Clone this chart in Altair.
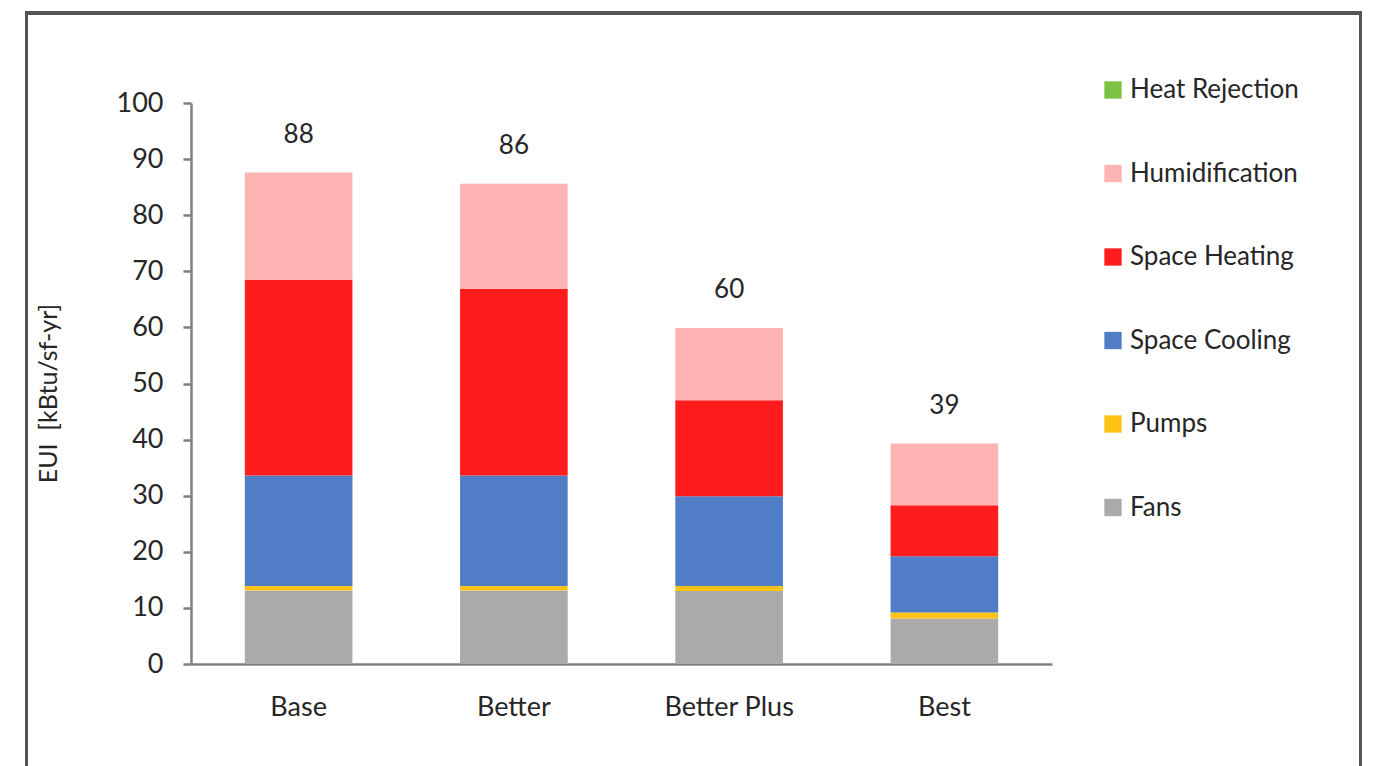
import altair as alt
import pandas as pd

# Energy use intensity by end use for each design option (kBtu/sf-yr)
categories = ["Base", "Better", "Better Plus", "Best"]
fans = [13.1, 13.1, 13.0, 8.1]
pumps = [0.8, 0.8, 0.9, 1.1]
space_cooling = [19.7, 19.7, 16.0, 10.0]
space_heating = [34.9, 33.3, 17.1, 9.1]
humidification = [19.1, 18.7, 12.9, 11.0]
heat_rejection = [0.0, 0.0, 0.0, 0.0]

# stack order, bottom to top
end_uses = ["Fans", "Pumps", "Space Cooling", "Space Heating", "Humidification", "Heat Rejection"]
series = [fans, pumps, space_cooling, space_heating, humidification, heat_rejection]
colors = {
    "Heat Rejection": "#7cc242",
    "Humidification": "#ffb4b4",
    "Space Heating": "#fe1c1c",
    "Space Cooling": "#517dc6",
    "Pumps": "#ffc318",
    "Fans": "#aaaaaa",
}
legend_order = ["Heat Rejection", "Humidification", "Space Heating", "Space Cooling", "Pumps", "Fans"]

rows = []
for k, (use, vals) in enumerate(zip(end_uses, series)):
    for cat, v in zip(categories, vals):
        rows.append({"Option": cat, "End Use": use, "EUI": v, "Stack": k})
df = pd.DataFrame(rows)

FONT = "Lato"
TEXT = "#262626"
AXIS = "#808080"
W, H = 861, 561

x_enc = alt.X(
    "Option:N",
    sort=categories,
    scale=alt.Scale(paddingInner=0.5, paddingOuter=0.25),
    axis=alt.Axis(
        title=None,
        labelAngle=0,
        ticks=False,
        labelPadding=30,
        labelFontSize=27,
        labelFont=FONT,
        labelColor=TEXT,
        domainColor=AXIS,
        domainWidth=2.5,
    ),
)

bars = alt.Chart(df).mark_bar(strokeWidth=0).encode(
    x=x_enc,
    y=alt.Y(
        "sum(EUI):Q",
        stack="zero",
        scale=alt.Scale(domain=[0, 100], nice=False),
        axis=alt.Axis(
            title="EUI \u00a0[kBtu/sf-yr]",
            titleFont=FONT,
            titleFontSize=25,
            titleFontWeight="normal",
            titleColor=TEXT,
            titleX=-130,
            titleY=290,
            values=list(range(0, 101, 10)),
            grid=False,
            tickSize=8,
            tickWidth=2.5,
            tickColor=AXIS,
            domainColor=AXIS,
            domainWidth=2.5,
            labelPadding=20,
            labelFontSize=27,
            labelFont=FONT,
            labelColor=TEXT,
        ),
    ),
    color=alt.Color(
        "End Use:N",
        scale=alt.Scale(domain=legend_order, range=[colors[u] for u in legend_order]),
        legend=alt.Legend(
            title=None,
            orient="none",
            legendX=909,
            legendY=-26,
            symbolType="square",
            symbolSize=300,
            symbolStrokeWidth=0,
            labelFont=FONT,
            labelFontSize=26,
            labelColor=TEXT,
            labelOffset=4,
            labelLimit=400,
            rowPadding=57.5,
            padding=0,
        ),
    ),
    order=alt.Order("Stack:Q", sort="ascending"),
)

labels = alt.Chart(df).transform_aggregate(
    total="sum(EUI)", groupby=["Option"]
).mark_text(font=FONT, fontSize=26, color=TEXT, baseline="middle", dy=-38).encode(
    x=alt.X("Option:N", sort=categories),
    y=alt.Y("total:Q"),
    text=alt.Text("total:Q", format=".0f"),
)

frame = alt.Chart(df).mark_rect(
    fill=None, stroke="#555555", strokeWidth=3, clip=False
).encode(
    x=alt.value(-164.5),
    x2=alt.value(1169.5),
    y=alt.value(-90),
    y2=alt.value(720),
)

chart = alt.layer(bars, labels, frame).properties(
    width=W,
    height=H,
    background="white",
    autosize=alt.AutoSizeParams(type="none"),
    padding={"left": 191, "top": 103, "right": 327, "bottom": 102},
).configure_view(stroke=None)

chart.save("out.html", embed_options={"renderer": "svg", "actions": False})
